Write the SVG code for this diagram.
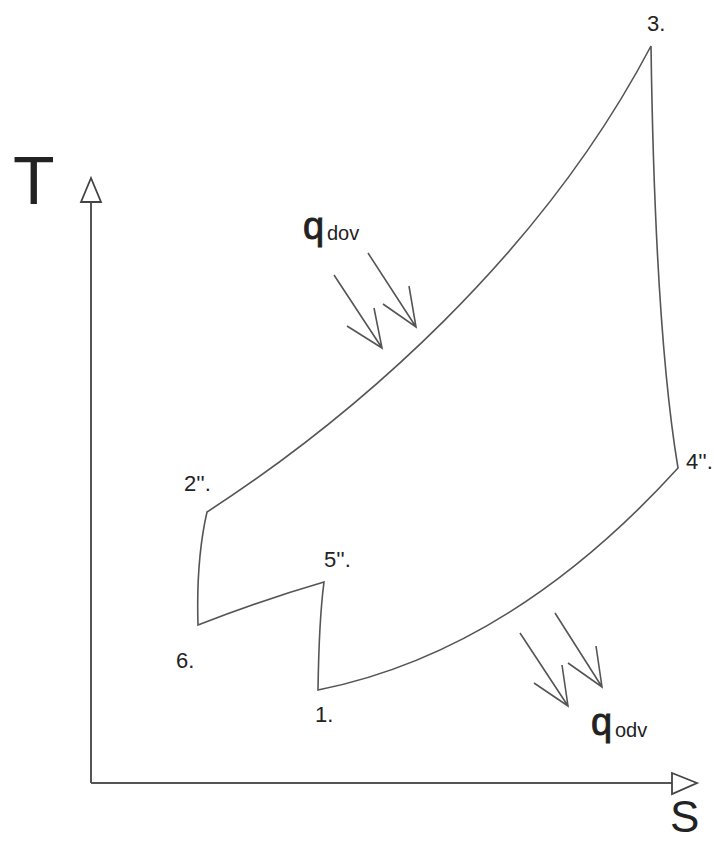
<svg xmlns="http://www.w3.org/2000/svg" width="716" height="841" viewBox="0 0 716 841">
<style>
.ln{fill:none;stroke:#555;stroke-width:1.6;stroke-linejoin:miter}
.ax{fill:none;stroke:#555;stroke-width:2}
.ah{fill:#fff;stroke:#444;stroke-width:1.8}
.lb{font-family:"Liberation Sans",Arial,sans-serif;font-size:22px;fill:#222}
.big{font-family:"Liberation Sans",Arial,sans-serif;fill:#222}
.q{stroke:#222;stroke-width:0.9}
</style>
<rect width="716" height="841" fill="#fff"/>
<g id="axes">
<line class="ax" x1="91" y1="783" x2="91" y2="202"/>
<polygon class="ah" points="91,178 101,202 81,202"/>
<line class="ax" x1="91" y1="783" x2="672" y2="783"/>
<polygon class="ah" points="697,783 672,773 672,794"/>
<text class="big" x="13" y="204" font-size="68">T</text>
<text class="big" x="670" y="832" font-size="44">S</text>
</g>
<g id="cycle">
<path class="ln" d="M207,512 C357,414.5 541,255 651,46 Q655,330 678,468 C588,567 468,660 318,690 Q319,620 324,582 Q262,600 198,625 Q196,560 207,512 Z"/>
</g>
<g id="labels">
<text class="lb" x="647" y="31">3.</text>
<text class="lb" x="686" y="469">4''.</text>
<text class="lb" x="184" y="491">2''.</text>
<text class="lb" x="324" y="567">5''.</text>
<text class="lb" x="176" y="668">6.</text>
<text class="lb" x="315" y="722">1.</text>
</g>
<g id="connectors">
<path class="ln" d="M334,275 L382,348 M347,326 L382,348 L374,308"/>
<path class="ln" d="M368,253 L416,327 M383,304 L416,327 L409,286"/>
<path class="ln" d="M520,633 L568,706 M534,683 L568,706 L562,665"/>
<path class="ln" d="M555,613 L602,687 M568,663 L602,687 L596,646"/>
</g>
<g id="qdov">
<text class="big q" x="303" y="239" font-size="38">q</text>
<text class="big" x="327" y="240" font-size="20">dov</text>
</g>
<g id="qodv">
<text class="big q" x="591" y="735" font-size="38">q</text>
<text class="big" x="615" y="737" font-size="20">odv</text>
</g>
</svg>
